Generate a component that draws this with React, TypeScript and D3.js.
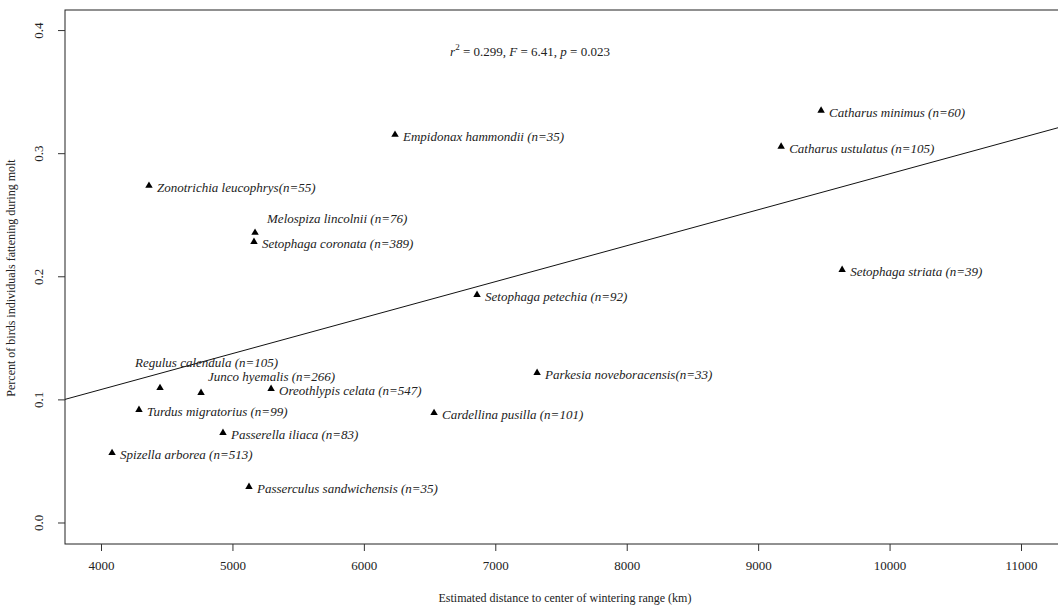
import React, { useRef, useEffect } from "react";
import * as d3 from "d3";

// species, estimated distance (km) and share of fattening birds
const species = [
  "Catharus minimus (n=60)",
  "Catharus ustulatus (n=105)",
  "Empidonax hammondii (n=35)",
  "Zonotrichia leucophrys(n=55)",
  "Melospiza lincolnii (n=76)",
  "Setophaga coronata (n=389)",
  "Setophaga striata (n=39)",
  "Setophaga petechia (n=92)",
  "Parkesia noveboracensis(n=33)",
  "Regulus calendula (n=105)",
  "Junco hyemalis (n=266)",
  "Oreothlypis celata (n=547)",
  "Turdus migratorius (n=99)",
  "Cardellina pusilla (n=101)",
  "Passerella iliaca (n=83)",
  "Spizella arborea (n=513)",
  "Passerculus sandwichensis (n=35)",
];
const distance = [
  9479, 9175, 6237, 4365, 5172, 5164, 9639, 6861, 7318, 4449, 4761, 5294, 4289,
  6534, 4928, 4084, 5126,
];
const fattening = [
  0.3346, 0.3053, 0.315, 0.2736, 0.2354, 0.228, 0.2053, 0.185, 0.1215, 0.1093,
  0.1053, 0.1085, 0.0915, 0.089, 0.0728, 0.0565, 0.0289,
];

const xTicks = [4000, 5000, 6000, 7000, 8000, 9000, 10000, 11000];
const yTicks = [0.0, 0.1, 0.2, 0.3, 0.4];

// fitted line y = intercept + slope * x
const intercept = -0.00882;
const slope = 2.9205e-5;

// label placement tweaks (pixels) for the crowded ones
const labelShift: Record<string, [number, number]> = {
  "Melospiza lincolnii (n=76)": [12, -14],
  "Regulus calendula (n=105)": [-25, -25],
  "Junco hyemalis (n=266)": [7, -16],
};

const App = () => {
  const ref = useRef<SVGSVGElement>(null);

  useEffect(() => {
    const svg = d3.select(ref.current);
    svg.selectAll("*").remove();

    const W = 1058;
    const H = 608;
    const left = 65;
    const top = 10;
    const bottom = 544;
    const right = 1067;
    const serif = "'Liberation Serif', 'Times New Roman', serif";

    svg.attr("width", W).attr("height", H);
    svg.append("rect").attr("width", W).attr("height", H).attr("fill", "#fff");

    const x = d3.scaleLinear().domain([3726, 11350]).range([left, right]);
    const y = d3.scaleLinear().domain([-0.01747, 0.4163]).range([bottom, top]);

    // frame
    svg
      .append("rect")
      .attr("x", left)
      .attr("y", top)
      .attr("width", right - left)
      .attr("height", bottom - top)
      .attr("fill", "none")
      .attr("stroke", "#222")
      .attr("stroke-width", 1);

    // axes
    const xAxis = svg
      .append("g")
      .attr("transform", `translate(0,${bottom})`)
      .call(d3.axisBottom(x).tickValues(xTicks).tickSize(7).tickPadding(10).tickFormat(d3.format("d")));
    xAxis.select(".domain").remove();
    xAxis.selectAll("line").attr("stroke", "#333");
    xAxis
      .selectAll("text")
      .attr("font-family", serif)
      .attr("font-size", 13)
      .attr("fill", "#222");

    const yAxis = svg
      .append("g")
      .attr("transform", `translate(${left},0)`)
      .call(d3.axisLeft(y).tickValues(yTicks).tickSize(7).tickFormat(d3.format(".1f")));
    yAxis.select(".domain").remove();
    yAxis.selectAll("line").attr("stroke", "#333");
    yAxis
      .selectAll("text")
      .attr("font-family", serif)
      .attr("font-size", 13)
      .attr("fill", "#222")
      .attr("text-anchor", "middle")
      .attr("x", null)
      .attr("dy", null)
      .attr("transform", "translate(-22,0) rotate(-90)");

    // axis titles
    svg
      .append("text")
      .attr("x", 565)
      .attr("y", 602)
      .attr("text-anchor", "middle")
      .attr("font-family", serif)
      .attr("font-size", 12)
      .attr("fill", "#222")
      .text("Estimated distance to center of wintering range (km)");
    svg
      .append("text")
      .attr("transform", "translate(15,278) rotate(-90)")
      .attr("text-anchor", "middle")
      .attr("font-family", serif)
      .attr("font-size", 12)
      .attr("fill", "#222")
      .text("Percent of birds individuals fattening during molt");

    // regression line, clipped to the plot region
    svg
      .append("clipPath")
      .attr("id", "plot-clip")
      .append("rect")
      .attr("x", left)
      .attr("y", top)
      .attr("width", right - left)
      .attr("height", bottom - top);
    const [x0, x1] = x.domain();
    svg
      .append("line")
      .attr("clip-path", "url(#plot-clip)")
      .attr("x1", x(x0))
      .attr("y1", y(intercept + slope * x0))
      .attr("x2", x(x1))
      .attr("y2", y(intercept + slope * x1))
      .attr("stroke", "#111")
      .attr("stroke-width", 1);

    // points
    const pts = species.map((name, i) => ({ name, d: distance[i], f: fattening[i] }));
    const tri = d3.symbol().type(d3.symbolTriangle).size(24);
    svg
      .append("g")
      .selectAll("path")
      .data(pts)
      .enter()
      .append("path")
      .attr("d", tri)
      .attr("transform", (p) => `translate(${x(p.d)},${y(p.f)})`)
      .attr("fill", "#000");

    svg
      .append("g")
      .selectAll("text")
      .data(pts)
      .enter()
      .append("text")
      .attr("x", (p) => x(p.d) + (labelShift[p.name] ? labelShift[p.name][0] : 8))
      .attr("y", (p) => y(p.f) + (labelShift[p.name] ? labelShift[p.name][1] : 2))
      .attr("dy", "0.35em")
      .attr("font-family", serif)
      .attr("font-style", "italic")
      .attr("font-size", 13)
      .attr("fill", "#222")
      .text((p) => p.name);

    // fit statistics
    const stat = svg
      .append("text")
      .attr("x", 530)
      .attr("y", 56)
      .attr("text-anchor", "middle")
      .attr("font-family", serif)
      .attr("font-size", 13)
      .attr("fill", "#222");
    stat.append("tspan").attr("font-style", "italic").text("r");
    stat.append("tspan").attr("font-size", 9).attr("dy", -6).text("2");
    stat.append("tspan").attr("dy", 6).text(" = 0.299, ");
    stat.append("tspan").attr("font-style", "italic").text("F");
    stat.append("tspan").text(" = 6.41, ");
    stat.append("tspan").attr("font-style", "italic").text("p");
    stat.append("tspan").text(" = 0.023");
  }, []);

  return (
    <svg
      ref={ref}
      style={{ position: "absolute", left: 0, top: 0, display: "block" }}
    />
  );
};

export default App;
